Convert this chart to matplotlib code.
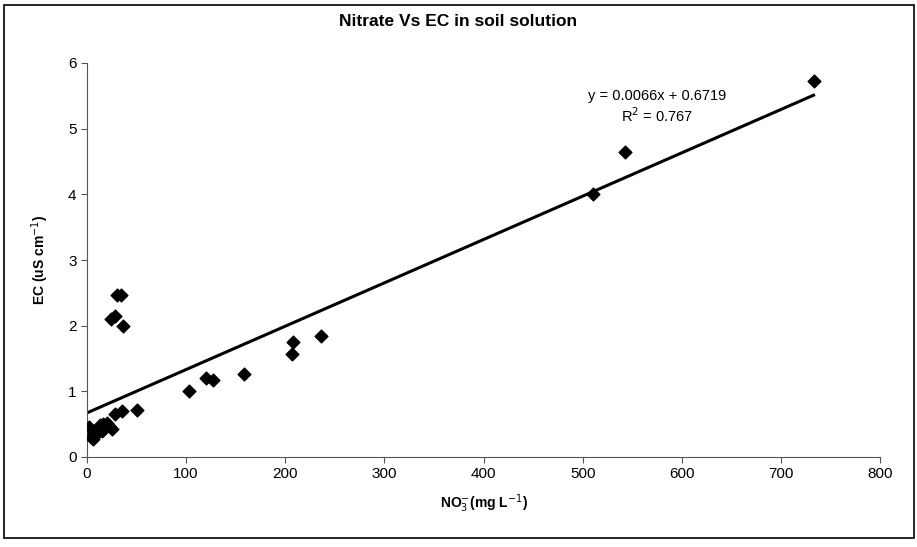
import matplotlib.pyplot as plt
import numpy as np
from matplotlib.patches import Rectangle

plt.rcParams['font.family'] = ['Liberation Sans', 'DejaVu Sans']

# nitrate (mg/L) and EC (uS/cm) measured in soil solution
nitrate = [2, 4, 6, 8, 10, 12, 13, 15, 16, 18, 20, 22, 25,
           24, 28, 30, 34, 36,
           28, 35, 50,
           103, 120, 127, 158, 207, 208, 236,
           510, 543, 733]
ec = [0.45, 0.30, 0.27, 0.33, 0.36, 0.42, 0.48, 0.40, 0.50, 0.45, 0.52, 0.47, 0.42,
      2.10, 2.15, 2.46, 2.46, 2.00,
      0.65, 0.70, 0.72,
      1.00, 1.20, 1.17, 1.27, 1.57, 1.75, 1.85,
      4.00, 4.65, 5.72]

slope = 0.0066
intercept = 0.6719
r2 = 0.767

fig = plt.figure(figsize=(9.17, 5.47), dpi=100)
ax = fig.add_axes([87 / 917, 1 - 457 / 547, 793 / 917, 394 / 547])

ax.scatter(nitrate, ec, marker='D', s=42, color='black', zorder=3)

xs = np.array([0, max(nitrate)])
ax.plot(xs, slope * xs + intercept, color='black', lw=2.2, zorder=2)

ax.text(575, 5.5, f'y = {slope}x + {intercept}', ha='center', va='center', fontsize=10.5)
ax.text(575, 5.2, f'R$^2$ = {r2}', ha='center', va='center', fontsize=10.5)

ax.set_xlim(0, 800)
ax.set_ylim(0, 6)
ax.set_xticks(range(0, 801, 100))
ax.set_yticks(range(0, 7))
ax.tick_params(direction='out', length=4, width=0.8, labelsize=11, color='#555555')
ax.spines['top'].set_visible(False)
ax.spines['right'].set_visible(False)
ax.spines['left'].set_color('#555555')
ax.spines['bottom'].set_color('#555555')

ax.set_xlabel('NO$_3^{-}$(mg L$^{-1}$)', fontsize=10, fontweight='bold', labelpad=8)
ax.set_ylabel('EC (uS cm$^{-1}$)', fontsize=10, fontweight='bold', labelpad=12)
fig.text(0.5, 1 - 22 / 547, 'Nitrate Vs EC in soil solution', ha='center', va='center',
         fontsize=12.5, fontweight='bold')

# chart frame
fig.patches.append(Rectangle((4 / 917, 1 - 538 / 547), 910 / 917, 533 / 547,
                             transform=fig.transFigure, fill=False, lw=1.2,
                             edgecolor='black'))

fig.savefig('out.png', dpi=100)
